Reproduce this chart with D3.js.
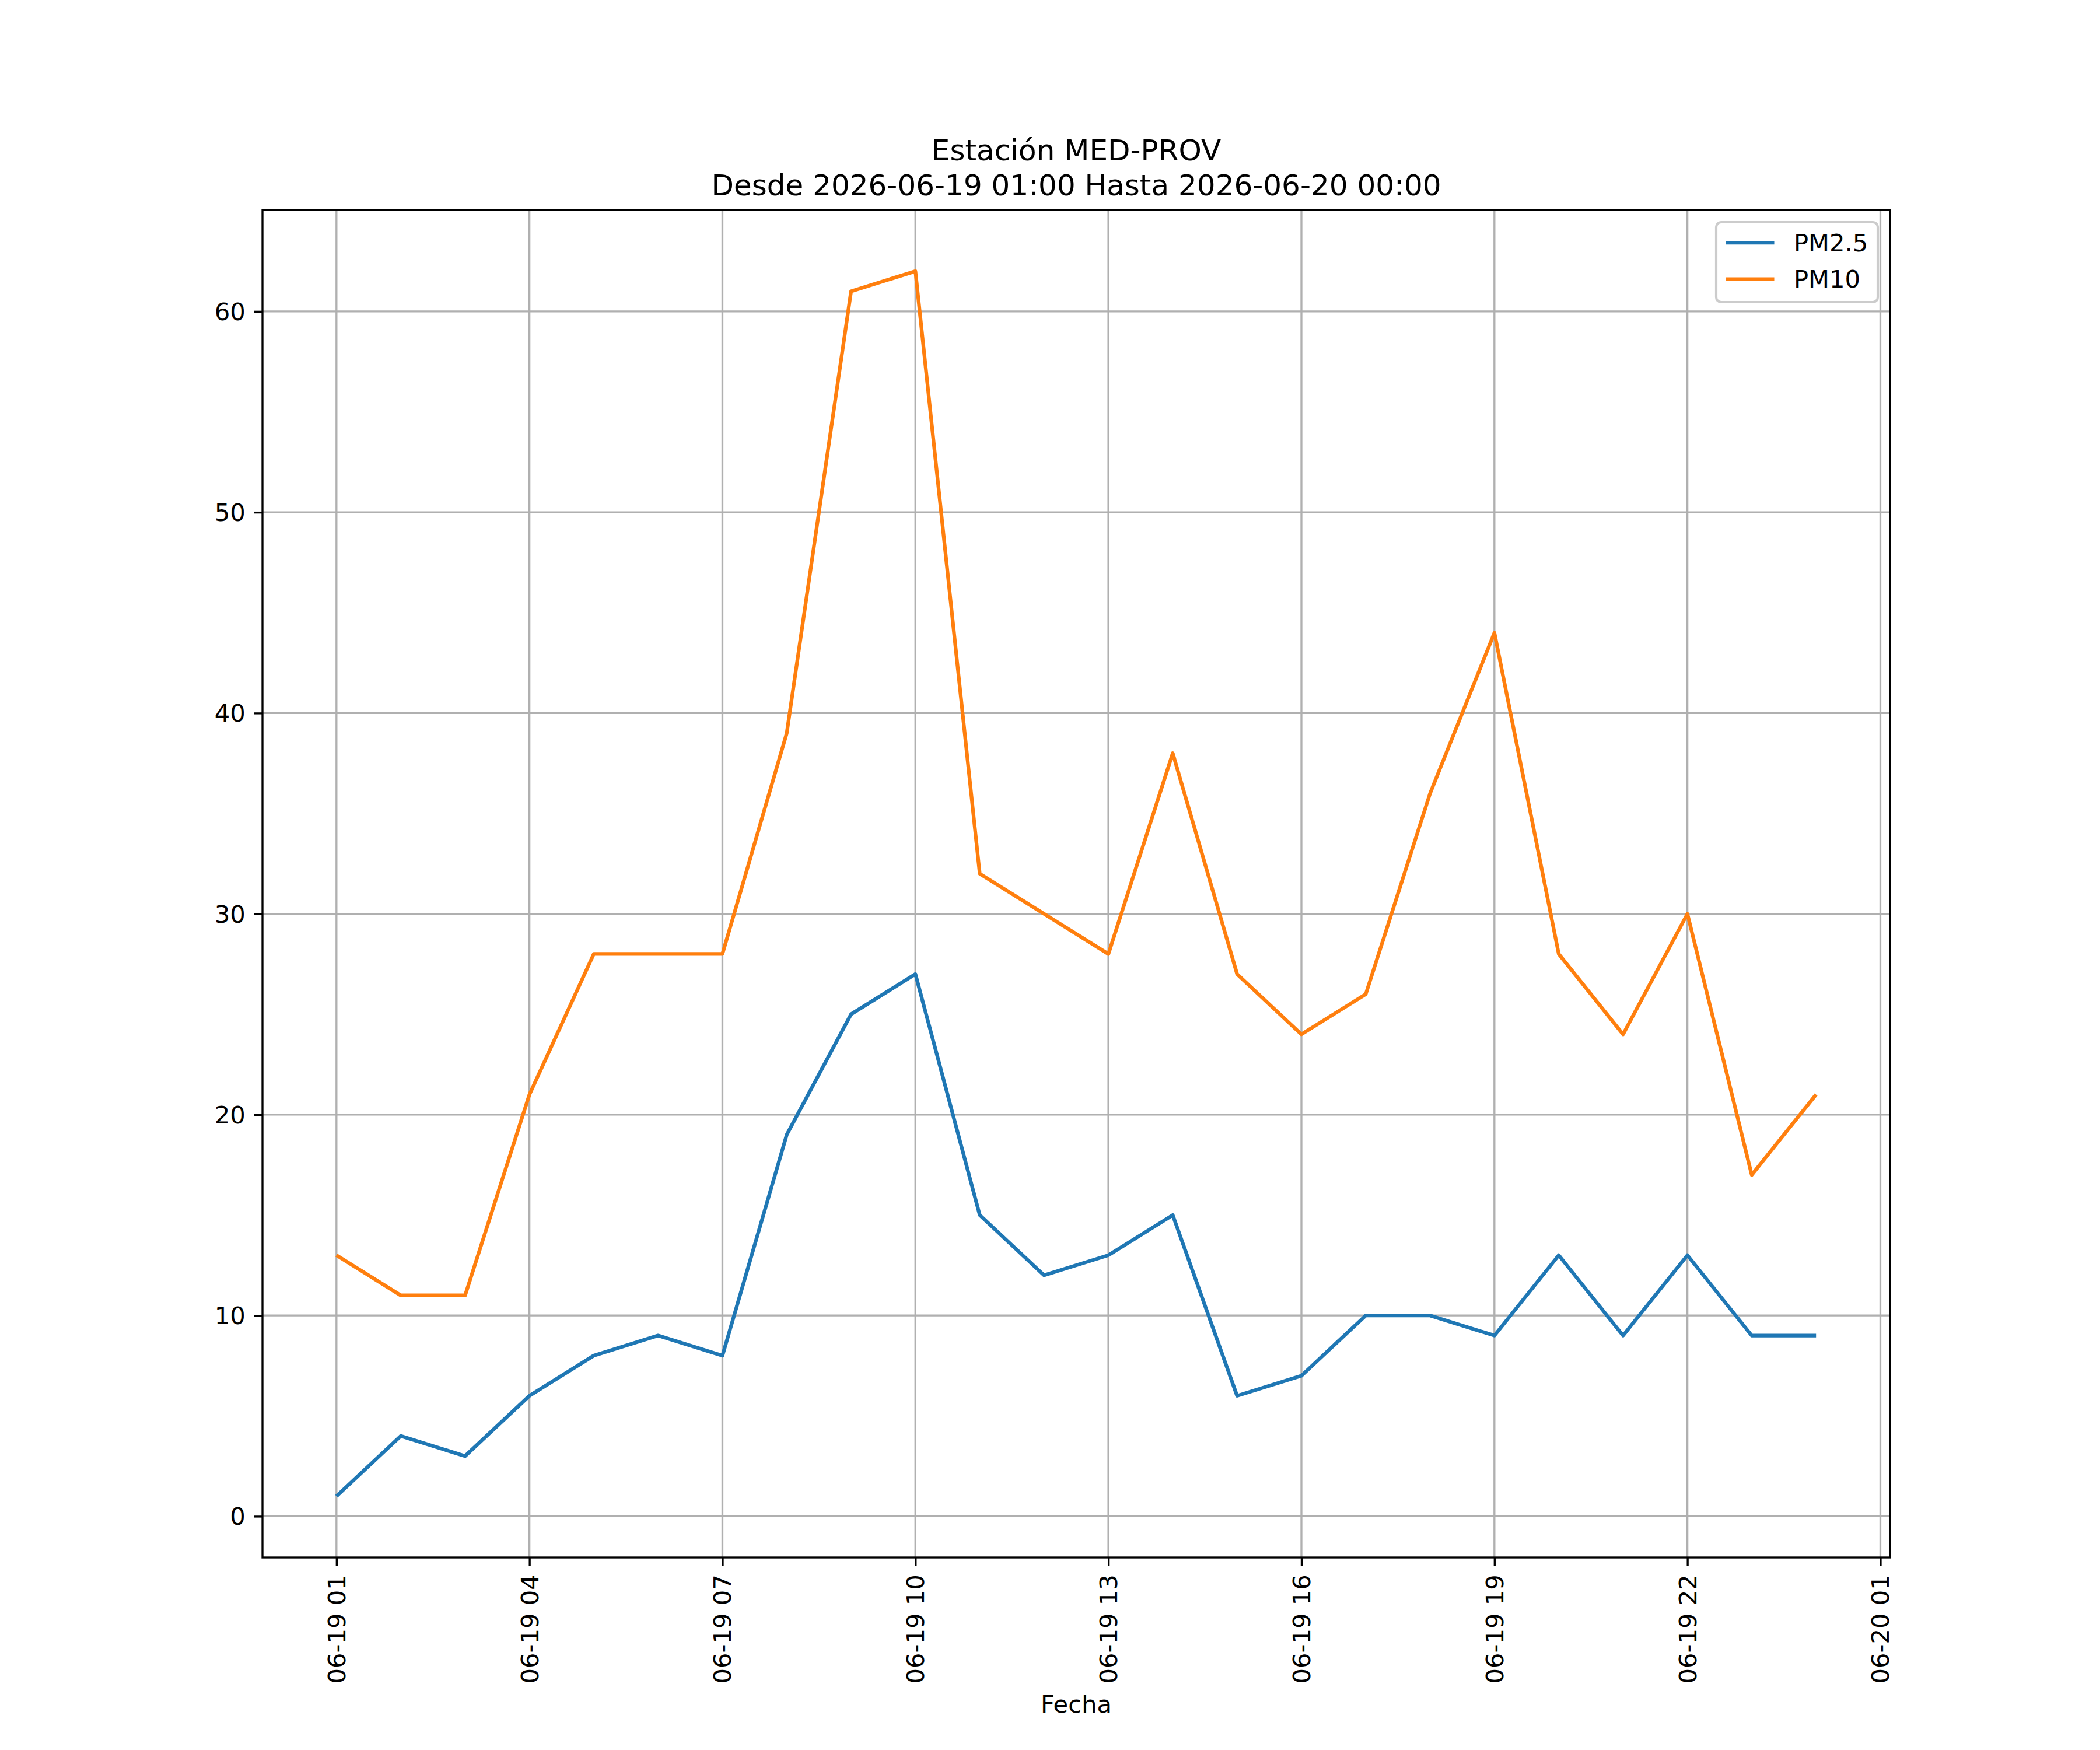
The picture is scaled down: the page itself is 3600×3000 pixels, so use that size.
<!DOCTYPE html>
<html>
<head>
<meta charset="utf-8">
<script src="https://cdn.jsdelivr.net/npm/d3@7"></script>
<style>
  html, body { margin: 0; padding: 0; background: #fff; }
  svg { display: block; }
  text { font-family: "DejaVu Sans", sans-serif; fill: #000; }
</style>
</head>
<body>
<svg id="chart" width="3600" height="3000"></svg>
<script>
const times = [
  "2026-06-19T01:00Z","2026-06-19T02:00Z","2026-06-19T03:00Z","2026-06-19T04:00Z",
  "2026-06-19T05:00Z","2026-06-19T06:00Z","2026-06-19T07:00Z","2026-06-19T08:00Z",
  "2026-06-19T09:00Z","2026-06-19T10:00Z","2026-06-19T11:00Z","2026-06-19T12:00Z",
  "2026-06-19T13:00Z","2026-06-19T14:00Z","2026-06-19T15:00Z","2026-06-19T16:00Z",
  "2026-06-19T17:00Z","2026-06-19T18:00Z","2026-06-19T19:00Z","2026-06-19T20:00Z",
  "2026-06-19T21:00Z","2026-06-19T22:00Z","2026-06-19T23:00Z","2026-06-20T00:00Z"
];
const pm25 = [1,4,3,6,8,9,8,19,25,27,15,12,13,15,6,7,10,10,9,13,9,13,9,9];
const pm10 = [13,11,11,21,28,28,28,39,61,62,32,30,28,38,27,24,26,36,44,28,24,30,17,21];
const seriesNames = ["PM2.5", "PM10"];
const seriesColors = ["#1f77b4", "#ff7f0e"];
const xTickTimes = [
  "2026-06-19T01:00Z","2026-06-19T04:00Z","2026-06-19T07:00Z","2026-06-19T10:00Z",
  "2026-06-19T13:00Z","2026-06-19T16:00Z","2026-06-19T19:00Z","2026-06-19T22:00Z",
  "2026-06-20T01:00Z"
];
const yTicks = [0,10,20,30,40,50,60];
const titleLines = ["Estación MED-PROV", "Desde 2026-06-19 01:00 Hasta 2026-06-20 00:00"];
const xLabel = "Fecha";

const svg = d3.select("#chart");
const L = 450, R = 3240, T = 360, B = 2670;
const fs = 41.67;

const dates = times.map(t => new Date(t));
const span = (dates[dates.length-1] - dates[0]);
const x = d3.scaleUtc()
  .domain([new Date(+dates[0] - span*0.05), new Date(+dates[dates.length-1] + span*0.05)])
  .range([L, R]);
const allVals = pm25.concat(pm10);
const ymin = d3.min(allVals), ymax = d3.max(allVals);
const yr = ymax - ymin;
const y = d3.scaleLinear().domain([ymin - yr*0.05, ymax + yr*0.05]).range([B, T]);

const xt = xTickTimes.map(t => new Date(t));
const fmt = d3.utcFormat("%m-%d %H");

// grid
const grid = svg.append("g");
grid.selectAll("line.vx").data(xt).enter().append("line")
  .attr("x1", d => x(d)).attr("x2", d => x(d)).attr("y1", T).attr("y2", B)
  .attr("stroke", "#b0b0b0").attr("stroke-width", 3.33);
grid.selectAll("line.hy").data(yTicks).enter().append("line")
  .attr("x1", L).attr("x2", R).attr("y1", d => y(d)).attr("y2", d => y(d))
  .attr("stroke", "#b0b0b0").attr("stroke-width", 3.33);

// lines
const lineGen = d3.line().x((d, i) => x(dates[i])).y(d => y(d));
[pm25, pm10].forEach((s, k) => {
  svg.append("path").datum(s)
    .attr("d", lineGen)
    .attr("fill", "none")
    .attr("stroke", seriesColors[k])
    .attr("stroke-width", 6.25)
    .attr("stroke-linejoin", "round")
    .attr("stroke-linecap", "butt");
});

// spines
svg.append("rect").attr("x", L).attr("y", T).attr("width", R - L).attr("height", B - T)
  .attr("fill", "none").attr("stroke", "#000").attr("stroke-width", 3.33)
  .attr("stroke-linejoin", "miter");

// x axis
const xAxis = d3.axisBottom(x).tickValues(xt).tickFormat(fmt).tickSize(14.6).tickPadding(14.6);
const gx = svg.append("g").attr("transform", `translate(0,${B})`).call(xAxis);
gx.select(".domain").remove();
gx.selectAll(".tick line").attr("stroke", "#000").attr("stroke-width", 3.33);
gx.selectAll(".tick text")
  .attr("font-size", fs)
  .attr("font-family", "DejaVu Sans")
  .attr("fill", "#000")
  .attr("y", 0).attr("dy", null)
  .attr("text-anchor", "end")
  .attr("dominant-baseline", "central")
  .attr("transform", "translate(0,29.2) rotate(-90)");

// y axis
const yAxis = d3.axisLeft(y).tickValues(yTicks).tickFormat(d3.format("d")).tickSize(14.6).tickPadding(14.6);
const gy = svg.append("g").attr("transform", `translate(${L},0)`).call(yAxis);
gy.select(".domain").remove();
gy.selectAll(".tick line").attr("stroke", "#000").attr("stroke-width", 3.33);
gy.selectAll(".tick text")
  .attr("font-size", fs)
  .attr("font-family", "DejaVu Sans")
  .attr("fill", "#000")
  .attr("dy", null)
  .attr("dominant-baseline", "central");

// x label
svg.append("text").attr("x", (L + R) / 2).attr("y", 2936)
  .attr("text-anchor", "middle").attr("font-size", fs).text(xLabel);

// title
svg.selectAll("text.title").data(titleLines).enter().append("text")
  .attr("class", "title")
  .attr("x", (L + R) / 2)
  .attr("y", (d, i) => T - 25 - (titleLines.length - 1 - i) * 60)
  .attr("text-anchor", "middle")
  .attr("font-size", 50)
  .text(d => d);

// legend
const lg = svg.append("g");
lg.append("rect").attr("x", 2942).attr("y", 381).attr("width", 277).attr("height", 137)
  .attr("rx", 8.3).attr("ry", 8.3)
  .attr("fill", "#fff").attr("fill-opacity", 0.8)
  .attr("stroke", "#cccccc").attr("stroke-width", 4.17);
seriesNames.forEach((name, i) => {
  const yy = 416 + i * 62.5;
  lg.append("line").attr("x1", 2958).attr("x2", 3041.5).attr("y1", yy).attr("y2", yy)
    .attr("stroke", seriesColors[i]).attr("stroke-width", 6.25);
  lg.append("text").attr("x", 3075).attr("y", yy).attr("dominant-baseline", "central")
    .attr("font-size", fs).text(name);
});
</script>
</body>
</html>
